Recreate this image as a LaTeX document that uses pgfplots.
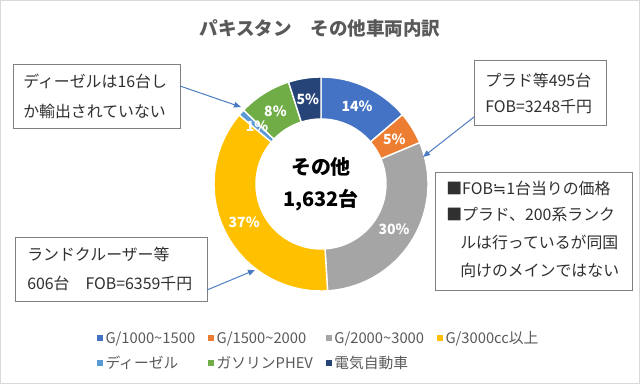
\documentclass[border=0pt]{standalone}
\usepackage{fontspec}
\setmainfont{Noto Sans CJK JP}
\newfontfamily\symfont{DejaVu Sans}
\usepackage{pgfplots}
\pgfplotsset{compat=1.18}
\usepackage{pgfplotstable}
\usetikzlibrary{calc,arrows.meta}

\definecolor{cA}{HTML}{4472C4}
\definecolor{cB}{HTML}{ED7D31}
\definecolor{cC}{HTML}{A5A5A5}
\definecolor{cD}{HTML}{FFC000}
\definecolor{cE}{HTML}{5B9BD5}
\definecolor{cF}{HTML}{70AD47}
\definecolor{cG}{HTML}{264478}
\definecolor{titlegray}{HTML}{595959}
\definecolor{boxgray}{HTML}{808080}
\definecolor{framegray}{HTML}{D9D9D9}
\definecolor{txt}{HTML}{303030}
\definecolor{arrowc}{HTML}{4A7BC0}

% counts per category (total 1,632)
\pgfplotstableread{
seg count
1 225
2 80
3 495
4 606
5 16
6 130
7 80
}\donutdata

\newcommand\getcount[2]{\pgfplotstablegetelem{#1}{count}\of\donutdata\xdef#2{\pgfplotsretval}}
\getcount{0}\nA \getcount{1}\nB \getcount{2}\nC \getcount{3}\nD
\getcount{4}\nE \getcount{5}\nF \getcount{6}\nG
\pgfmathsetmacro\tot{\nA+\nB+\nC+\nD+\nE+\nF+\nG}
\pgfmathsetmacro\aA{90}
\pgfmathsetmacro\aB{\aA-360*(\nA/\tot)}
\pgfmathsetmacro\aC{\aB-360*(\nB/\tot)}
\pgfmathsetmacro\aD{\aC-360*(\nC/\tot)}
\pgfmathsetmacro\aE{\aD-360*(\nD/\tot)}
\pgfmathsetmacro\aF{\aE-360*(\nE/\tot)}
\pgfmathsetmacro\aG{\aF-360*(\nF/\tot)}
\pgfmathsetmacro\aH{\aG-360*(\nG/\tot)}
\pgfmathtruncatemacro\pA{round(100*(\nA/\tot))}
\pgfmathtruncatemacro\pB{round(100*(\nB/\tot))}
\pgfmathtruncatemacro\pC{round(100*(\nC/\tot))}
\pgfmathtruncatemacro\pD{round(100*(\nD/\tot))}
\pgfmathtruncatemacro\pE{round(100*(\nE/\tot))}
\pgfmathtruncatemacro\pF{round(100*(\nF/\tot))}
\pgfmathtruncatemacro\pG{round(100*(\nG/\tot))}

\def\Ro{2.675cm}
\def\Ri{1.625cm}
\def\Rl{2.15cm}
\newcommand\donutseg[3]{%
  \fill[#3, draw=white, line width=1pt] ($(C)+(#1:\Ro)$) arc[start angle=#1, end angle=#2, radius=\Ro]
    -- ($(C)+(#2:\Ri)$) arc[start angle=#2, end angle=#1, radius=\Ri] -- cycle;}
\newcommand\seglabel[3]{%
  \node[text=white, font=\bfseries\fontsize{10}{12}\selectfont] at ($(C)+({(#1+#2)/2}:\Rl)$) {#3\%};}

\begin{document}
\begin{tikzpicture}
\begin{axis}[
  scale only axis, width=16cm, height=9.6cm,
  xmin=0, xmax=640, ymin=0, ymax=384,
  hide axis, clip=false,
  legend image code/.code={\fill[#1] (0pt,-2.1pt) rectangle (4.25pt,2.1pt);},
  legend columns=4,
  legend cell align=left,
  legend style={draw=none, fill=none, text=titlegray,
    font=\fontsize{10.5}{12}\selectfont,
    at={(axis cs:319,33)}, anchor=center,
    row sep=3.5pt,
    /tikz/every even column/.append style={column sep=7pt}},
]
\draw[framegray, line width=1pt] (axis cs:0.7,0.7) rectangle (axis cs:639.3,383.3);

\addlegendimage{fill=cA, draw=none}\addlegendentry{G/1000\textasciitilde1500}
\addlegendimage{fill=cB, draw=none}\addlegendentry{G/1500\textasciitilde2000}
\addlegendimage{fill=cC, draw=none}\addlegendentry{G/2000\textasciitilde3000}
\addlegendimage{fill=cD, draw=none}\addlegendentry{G/3000cc以上}
\addlegendimage{fill=cE, draw=none}\addlegendentry{ディーゼル}
\addlegendimage{fill=cF, draw=none}\addlegendentry{ガソリンPHEV}
\addlegendimage{fill=cG, draw=none}\addlegendentry{電気自動車}

\coordinate (C) at (axis cs:321,200);
\donutseg{\aA}{\aB}{cA}
\donutseg{\aB}{\aC}{cB}
\donutseg{\aC}{\aD}{cC}
\donutseg{\aD}{\aE}{cD}
\donutseg{\aE}{\aF}{cE}
\donutseg{\aF}{\aG}{cF}
\donutseg{\aG}{\aH}{cG}
\seglabel{\aA}{\aB}{\pA}
\seglabel{\aB}{\aC}{\pB}
\seglabel{\aC}{\aD}{\pC}
\seglabel{\aD}{\aE}{\pD}
\seglabel{\aE}{\aF}{\pE}
\seglabel{\aF}{\aG}{\pF}
\seglabel{\aG}{\aH}{\pG}

% title and centre text
\node[font=\bfseries\fontsize{13.2}{16}\selectfont, text=titlegray] at (axis cs:320,356) {パキスタン　その他車両内訳};
\node[font=\bfseries\fontsize{14.2}{17}\selectfont] at (axis cs:321,217) {その他};
\node[font=\bfseries\fontsize{14.2}{17}\selectfont] at (axis cs:321,184) {1,632台};

% callouts
\begin{scope}[every node/.style={anchor=west, text=txt, font=\fontsize{11.3}{13}\selectfont, inner sep=0pt}]
\draw[boxgray, line width=0.7pt, fill=white] (axis cs:13,320) rectangle (axis cs:180,256);
\node at (axis cs:23,303) {ディーゼルは16台し};
\node at (axis cs:23,273) {か輸出されていない};
\draw[arrowc, line width=0.7pt, -{Triangle[length=5pt,width=4pt]}] (axis cs:180,298) -- (axis cs:241,277);

\draw[boxgray, line width=0.7pt, fill=white] (axis cs:474,324) rectangle (axis cs:606,259);
\node at (axis cs:485,304) {プラド等495台};
\node at (axis cs:485,277) {FOB=3248千円};
\draw[arrowc, line width=0.7pt, -{Triangle[length=5pt,width=4pt]}] (axis cs:474,267) -- (axis cs:423,227);

\draw[boxgray, line width=0.7pt, fill=white] (axis cs:435,212) rectangle (axis cs:632,94);
\node at (axis cs:446,196) {■FOB{\symfont ≒}1台当りの価格};
\node at (axis cs:446,169) {■プラド、200系ランク};
\node at (axis cs:460,142) {ルは行っているが同国};
\node at (axis cs:460,114) {向けのメインではない};

\draw[boxgray, line width=0.7pt, fill=white] (axis cs:15,147) rectangle (axis cs:207,83);
\node at (axis cs:27,130) {ランドクルーザー等};
\node at (axis cs:27,101) {606台　FOB=6359千円};
\draw[arrowc, line width=0.7pt, -{Triangle[length=5pt,width=4pt]}] (axis cs:207,94) -- (axis cs:255,114);
\end{scope}
\end{axis}
\end{tikzpicture}
\end{document}
